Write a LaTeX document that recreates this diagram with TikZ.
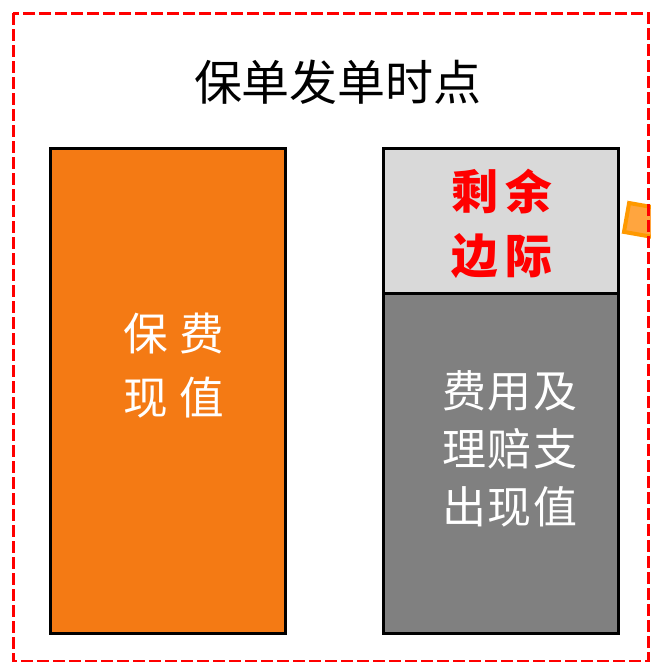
\documentclass[tikz,border=0pt]{standalone}
\usepackage{fontspec}
\newfontfamily\cjk{Noto Sans CJK SC}
\definecolor{frameRed}{HTML}{FF0000}
\definecolor{premOrange}{HTML}{F47A14}
\definecolor{marginGray}{HTML}{D9D9D9}
\definecolor{costGray}{HTML}{808080}
\definecolor{markEdge}{HTML}{FF9900}
\definecolor{markFill}{HTML}{FFA53F}
\begin{document}
\begin{tikzpicture}[x=0.75pt,y=-0.75pt,
  bar/.style={draw=black, line width=2.25pt, inner sep=0pt, outer sep=0pt,
    anchor=north west, minimum width=176.25pt},
  label/.style={inner sep=0pt, align=center, font=\cjk}]
\useasboundingbox (0,0) rectangle (651,662);
\clip (0,0) rectangle (651,662);
\fill[white] (0,0) rectangle (651,662);
% bars
\node[bar, fill=premOrange, minimum height=363.75pt] (premium) at (50,148) {};
\node[bar, fill=marginGray, minimum height=108.75pt] (margin) at (383,148) {};
\node[bar, fill=costGray, minimum height=255pt] (cost) at (383,293) {};
% marker
\node[draw=markEdge, fill=markFill, line width=3pt, minimum width=22pt, minimum height=22pt,
  inner sep=0pt, rotate=-10] (marker) at (641,220) {};
% texts
\node[label, font=\cjk\fontsize{36}{40}\selectfont] (title) at (338,82) {保单发单时点};
\node[label, text=white, font=\cjk\fontsize{33.5}{48}\selectfont] (premtext) at (174,366)
  {保\hspace{9pt}费\\现\hspace{9pt}值};
\node[label, text=frameRed, font=\cjk\bfseries\fontsize{35}{48}\selectfont] (margintext) at (502,224)
  {剩\hspace{6pt}余\\边\hspace{6pt}际};
\node[label, text=white, font=\cjk\fontsize{33}{43.5}\selectfont] (costtext) at (510,449)
  {费\hspace{1pt}用\hspace{1pt}及\\理\hspace{1pt}赔\hspace{1pt}支\\出\hspace{1pt}现\hspace{1pt}值};
% frame
\draw[frameRed, line width=2.25pt, dash pattern=on 9pt off 3pt] (13,13) rectangle (648,661);
\coordinate (frame) at (330,337);
\end{tikzpicture}
\end{document}
